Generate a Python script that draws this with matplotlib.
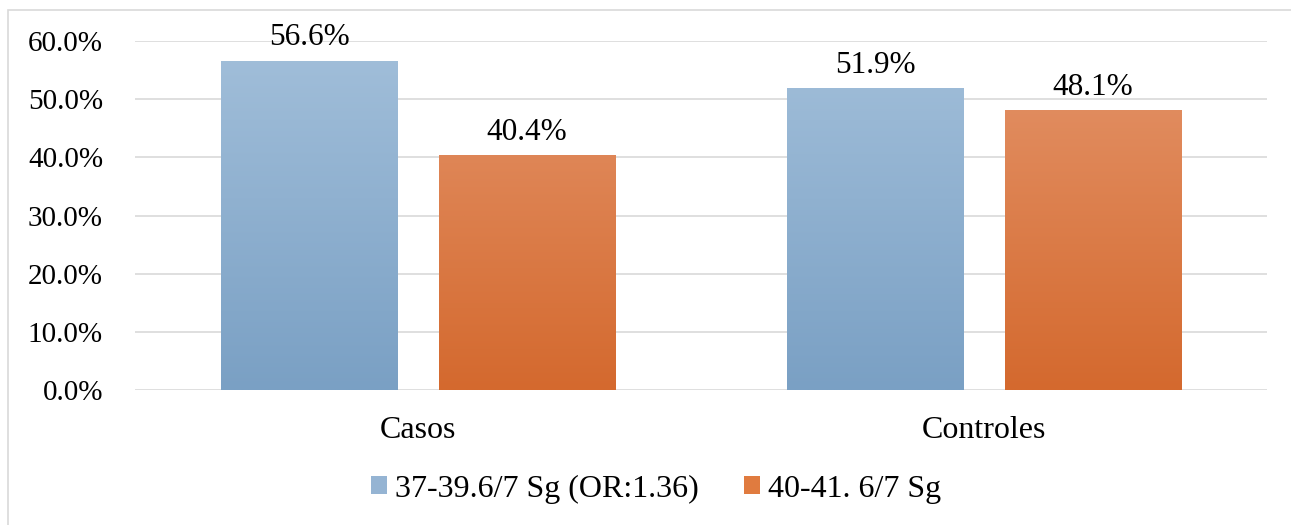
import numpy as np
import matplotlib.pyplot as plt
from matplotlib.patches import Rectangle
from matplotlib.colors import LinearSegmentedColormap

plt.rcParams['font.family'] = ['Liberation Serif', 'DejaVu Serif']

categories = ['Casos', 'Controles']
series_names = ['37-39.6/7 Sg (OR:1.36)', '40-41. 6/7 Sg']
early = [56.6, 51.9]
late = [40.4, 48.1]
yticks = [0, 10, 20, 30, 40, 50, 60]

# gradient end colours (top, bottom) for each series
grads = [('#A2BFDA', '#7AA0C4'), ('#E4946A', '#D4692E')]
solid = ['#95B4D3', '#E07B3F']

fig = plt.figure(figsize=(12.91, 5.25), dpi=100)
fig.patches.append(Rectangle((8 / 1291, -0.1), 1.1, (525 - 10) / 525 + 0.1,
                             transform=fig.transFigure, fill=False,
                             edgecolor='#D9D9D9', linewidth=1.2))
ax = fig.add_axes([135 / 1291, 1 - 390 / 525, (1267 - 135) / 1291, (390 - 41) / 525])

width = 0.311
offset = width / 2 + 0.037
x = np.arange(len(categories))

for vals, off, (top, bot), name, c in zip([early, late], [-offset, offset], grads,
                                          series_names, solid):
    bars = ax.bar(x + off, vals, width, color=c, label=name, zorder=2)
    cmap = LinearSegmentedColormap.from_list('g', [bot, top])
    for b, v in zip(bars, vals):
        b.set_facecolor('none')
        im = ax.imshow(np.linspace(0, 1, 256).reshape(-1, 1), cmap=cmap,
                       extent=[b.get_x(), b.get_x() + b.get_width(), 0, 60],
                       origin='lower', aspect='auto', zorder=2, vmin=0, vmax=1)
        im.set_clip_path(b)
        ax.annotate(f'{v:.1f}%', (b.get_x() + b.get_width() / 2, v),
                    xytext=(0, 6), textcoords='offset points',
                    ha='center', va='bottom', fontsize=22.5, color='#000000')

ax.set_xlim(-0.5, 1.5)
ax.set_ylim(0, 60)
ax.set_yticks(yticks)
ax.set_yticklabels([f'{t:.1f}%' for t in yticks], fontsize=21)
ax.set_xticks(x)
ax.set_xticklabels(categories, fontsize=23)
ax.tick_params(length=0)
ax.tick_params(axis='x', pad=19)
ax.tick_params(axis='y', pad=23)
ax.grid(axis='y', color='#D9D9D9', linewidth=1.2, zorder=0)
for s in ax.spines.values():
    s.set_visible(False)

handles = [Rectangle((0, 0), 1, 1, facecolor=c) for c in solid]
fig.legend(handles, series_names, loc='center', bbox_to_anchor=(656 / 1291, 1 - 489 / 525),
           ncol=2, frameon=False, fontsize=23, handlelength=0.5, handleheight=0.5,
           handletextpad=0.25, columnspacing=1.4)

fig.savefig('out.png', dpi=100)
